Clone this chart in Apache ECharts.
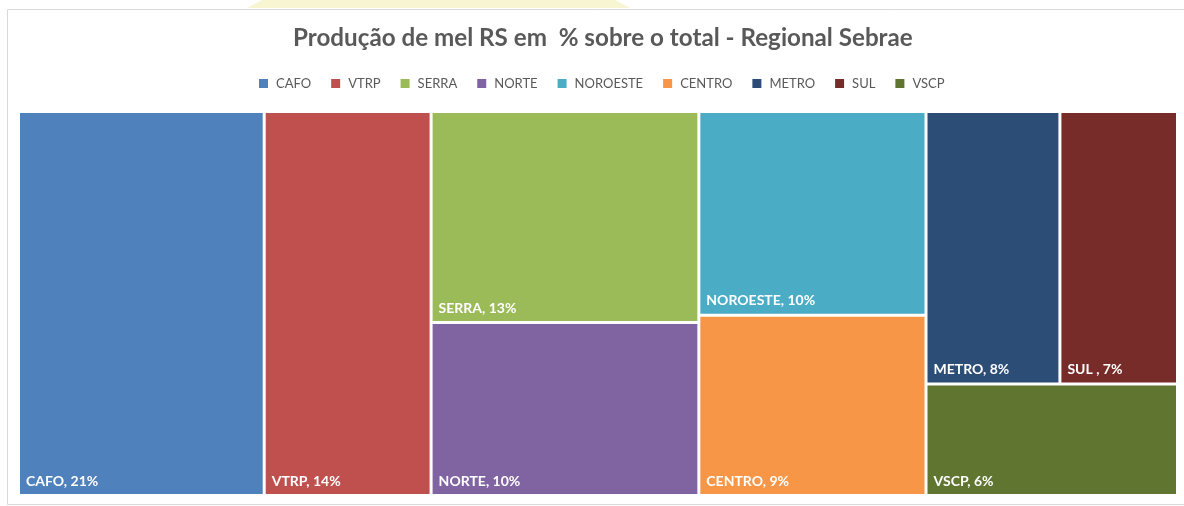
<!DOCTYPE html>
<html>
<head>
<meta charset="utf-8">
<script src="https://cdn.jsdelivr.net/npm/echarts@6/dist/echarts.min.js"></script>
<style>
  html, body { margin: 0; padding: 0; background: #fff; }
  #chart { width: 1184px; height: 506px; }
</style>
</head>
<body>
<div id="chart"></div>
<script>
var regionNames = ['CAFO', 'VTRP', 'SERRA', 'NORTE', 'NOROESTE', 'CENTRO', 'METRO', 'SUL', 'VSCP'];
var regionLabels = ['CAFO', 'VTRP', 'SERRA', 'NORTE', 'NOROESTE', 'CENTRO', 'METRO', 'SUL ', 'VSCP'];
var regionValues = [21.2, 14.4, 12.7, 10.4, 10.4, 9.2, 8.2, 7.2, 6.3];
var regionColors = ['#4F81BD', '#C0504D', '#9BBB59', '#8064A2', '#4BACC6', '#F79646', '#2C4D75', '#772C2A', '#5F7530'];
// aninhamento usado só para o treemap repetir a disposição do Excel (índices em regionNames)
var layoutTree = [0, [1, [[2, 3], [[4, 5], [[6, 7], 8]]]]];

var chart = echarts.init(document.getElementById('chart'));

function buildNode(g, key) {
    if (typeof g === 'number') {
        return {
            name: regionNames[g],
            value: regionValues[g],
            labelText: regionLabels[g],
            itemStyle: { color: regionColors[g] }
        };
    }
    return {
        name: 'grupo' + key,
        itemStyle: { borderWidth: 0, gapWidth: 0 },
        children: g.map(function(c, j) {
            return buildNode(c, key + '_' + j);
        })
    };
}

var treeData = layoutTree.map(function(g, i) {
    return buildNode(g, String(i));
});

var option = {
    backgroundColor: '#ffffff',
    title: {
        text: 'Produção de mel RS em  % sobre o total - Regional Sebrae',
        left: 288,
        top: 21,
        textStyle: {
            color: '#595959',
            fontSize: 24.2,
            fontWeight: 'bold',
            fontFamily: 'Lato'
        }
    },
    legend: {
        data: regionNames,
        top: 72,
        left: 254,
        itemWidth: 9,
        itemHeight: 9,
        itemGap: 20,
        icon: 'rect',
        textStyle: { color: '#595959', fontSize: 13, fontFamily: 'Lato', padding: [0, 0, 0, 3] }
    },
    graphic: [
        {
            type: 'polygon',
            shape: { points: [[247, 8], [262, 0], [615, 0], [630, 8]] },
            style: { fill: '#f7f5d2' },
            silent: true,
            z: -2
        },
        {
            type: 'rect',
            shape: { x: 7.5, y: 9.5, width: 1190, height: 495 },
            style: { fill: '#ffffff', stroke: '#d9d9d9', lineWidth: 1 },
            silent: true,
            z: -1
        }
    ],
    series: [
        {
            // série só para a legenda
            type: 'pie',
            radius: [0, 0],
            silent: true,
            label: { show: false },
            labelLine: { show: false },
            data: regionNames.map(function(n, i) {
                return { name: n, value: regionValues[i], itemStyle: { color: regionColors[i] } };
            })
        },
        {
            type: 'treemap',
            left: 18.5,
            top: 111.5,
            right: 6.5,
            bottom: 10.5,
            sort: false,
            roam: false,
            nodeClick: false,
            breadcrumb: { show: false },
            squareRatio: 1.2,
            label: {
                show: true,
                position: 'insideBottomLeft',
                distance: 6,
                padding: 0,
                color: '#ffffff',
                fontSize: 14,
                fontFamily: 'Lato',
                fontWeight: 'bold',
                formatter: function(p) {
                    return p.data.labelText + ', ' + Math.round(p.value) + '%';
                }
            },
            upperLabel: { show: false },
            itemStyle: { borderWidth: 1.5, gapWidth: 0, borderColor: '#ffffff' },
            levels: [
                { itemStyle: { borderWidth: 0, gapWidth: 0 } }
            ],
            data: treeData
        }
    ]
};

chart.setOption(option);
</script>
</body>
</html>
